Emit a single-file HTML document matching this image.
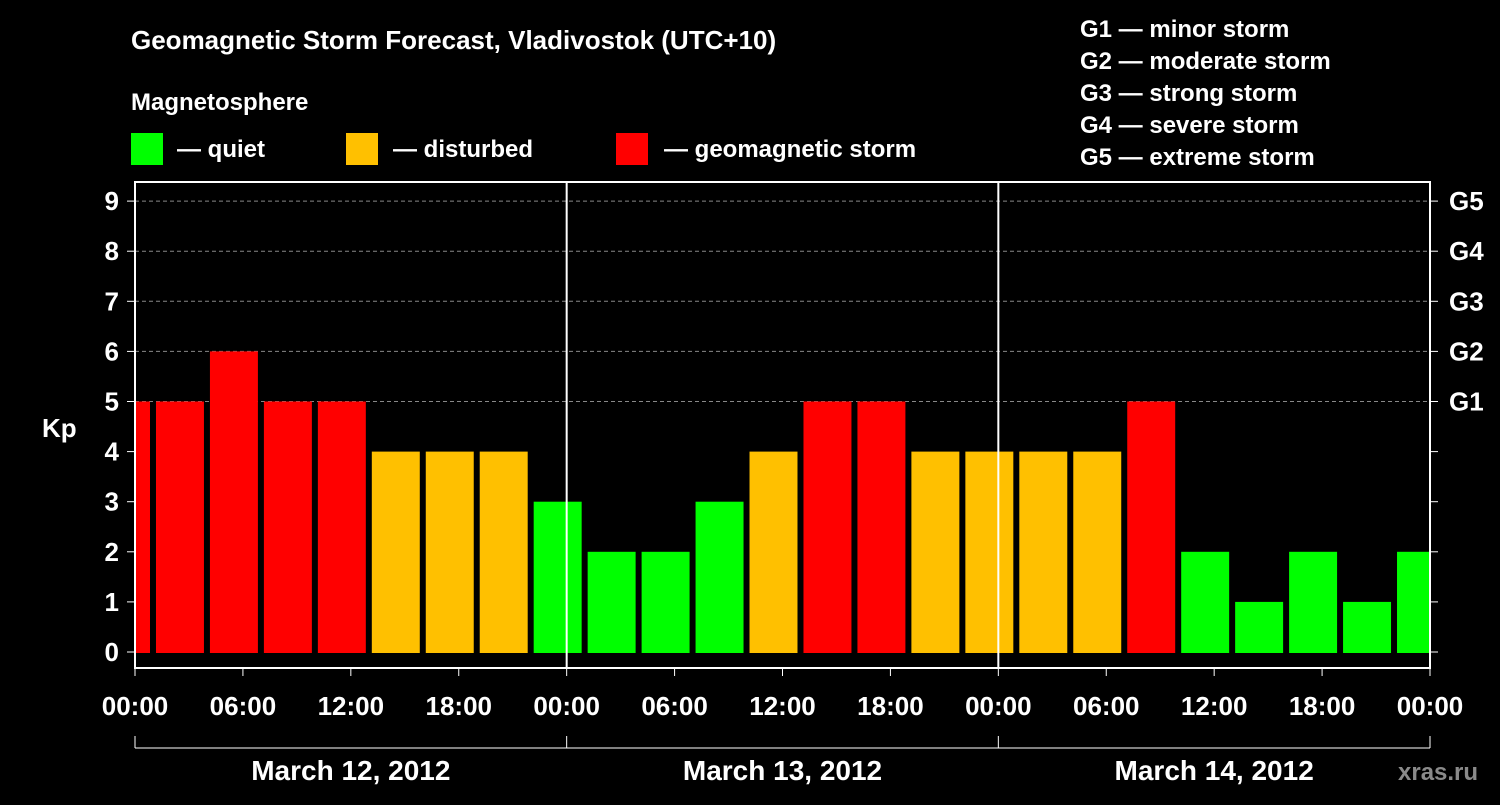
<!DOCTYPE html>
<html><head><meta charset="utf-8"><style>
body{margin:0;background:#000;width:1500px;height:800px;overflow:hidden}
svg text{font-family:"Liberation Sans",sans-serif;font-weight:bold;fill:#fff}
</style></head><body>
<svg id="c" width="1500" height="800">
<text x="131" y="49" font-size="26">Geomagnetic Storm Forecast, Vladivostok (UTC+10)</text>
<text x="131" y="110" font-size="24">Magnetosphere</text>
<g><rect x="131" y="133" width="32" height="32" fill="#00ff00"/><text x="177" y="157" font-size="24">— quiet</text></g>
<g><rect x="346" y="133" width="32" height="32" fill="#ffc000"/><text x="393" y="157" font-size="24">— disturbed</text></g>
<g><rect x="616" y="133" width="32" height="32" fill="#ff0000"/><text x="664" y="157" font-size="24">— geomagnetic storm</text></g>
<g font-size="24">
<text x="1080" y="37">G1 — minor storm</text><text x="1080" y="69">G2 — moderate storm</text><text x="1080" y="101">G3 — strong storm</text><text x="1080" y="133">G4 — severe storm</text><text x="1080" y="165">G5 — extreme storm</text></g>
<text x="42" y="437" font-size="26">Kp</text>
<text x="1398" y="780" font-size="24" fill="#888" style="fill:#8a8a8a">xras.ru</text>
<g id="plot"></g>
</svg>
<script>
const kpValues=[5,5,6,5,5,4,4,4,3,2,2,3,4,5,5,4,4,4,4,5,2,1,2,1,2];
const barHours=[-0.5,2.5,5.5,8.5,11.5,14.5,17.5,20.5,23.5,26.5,29.5,32.5,35.5,38.5,41.5,44.5,47.5,50.5,53.5,56.5,59.5,62.5,65.5,68.5,71.5];
const yTicks=[0,1,2,3,4,5,6,7,8,9];
const gLabels=["G1","G2","G3","G4","G5"];
const xTickLabels=["00:00","06:00","12:00","18:00","00:00","06:00","12:00","18:00","00:00","06:00","12:00","18:00","00:00"];
const dayLabels=["March 12, 2012","March 13, 2012","March 14, 2012"];
const L=135,R=1430,T=182,B=668;
const x=h=>L+h*(R-L)/72;
const y=v=>652-v*50.1;
const ns="http://www.w3.org/2000/svg",P=document.getElementById('plot');
function mk(t,a,txt){const e=document.createElementNS(ns,t);for(const k in a)e.setAttribute(k,a[k]);if(txt!=null)e.textContent=txt;P.appendChild(e);return e;}
const clip=mk('clipPath',{id:'pc'});const cr=document.createElementNS(ns,'rect');cr.setAttribute('x',L);cr.setAttribute('y',T);cr.setAttribute('width',R-L);cr.setAttribute('height',B-T);clip.appendChild(cr);
yTicks.forEach(v=>{
 if(v>=5){const g=mk('line',{x1:L,x2:R,y1:y(v),y2:y(v),stroke:'#888','stroke-dasharray':'4,3','stroke-width':1});
 }
 const t=mk('text',{x:L-16,y:y(v)+9,'font-size':26,'text-anchor':'end'},v);
 
 mk('line',{x1:L-8,x2:L,y1:y(v),y2:y(v),stroke:'#fff','stroke-width':1});
 mk('line',{x1:R,x2:R+8,y1:y(v),y2:y(v),stroke:'#fff','stroke-width':1});
 if(v>=5){const g=mk('text',{x:R+19,y:y(v)+9,'font-size':26},gLabels[v-5]);
 }
});
kpValues.forEach((v,i)=>{
 const c=v>=5?'#ff0000':v>=4?'#ffc000':'#00ff00';
 const w=x(2.667)-x(0);
 const r=mk('rect',{x:x(barHours[i])-w/2,y:y(v),width:w,height:y(0)-y(v)+1,fill:c,'clip-path':'url(#pc)'});
 
});
[24,48].forEach(h=>mk('line',{x1:x(h),x2:x(h),y1:T,y2:B,stroke:'#fff','stroke-width':2}));
const fr=mk('rect',{x:L,y:T,width:R-L,height:B-T,fill:'none',stroke:'#fff','stroke-width':2});

xTickLabels.forEach((s,i)=>{
 mk('line',{x1:x(i*6),x2:x(i*6),y1:B,y2:B+8,stroke:'#fff','stroke-width':1});
 const t=mk('text',{x:x(i*6),y:715,'font-size':26,'text-anchor':'middle'},s);
 
});
mk('line',{x1:L,x2:R,y1:748,y2:748,stroke:'#fff','stroke-width':1});
[0,24,48,72].forEach(h=>mk('line',{x1:x(h),x2:x(h),y1:736,y2:748,stroke:'#fff','stroke-width':1}));
dayLabels.forEach((s,i)=>{
 const t=mk('text',{x:x(i*24+12),y:780,'font-size':28,'text-anchor':'middle'},s);
 
});
</script>
</body></html>
